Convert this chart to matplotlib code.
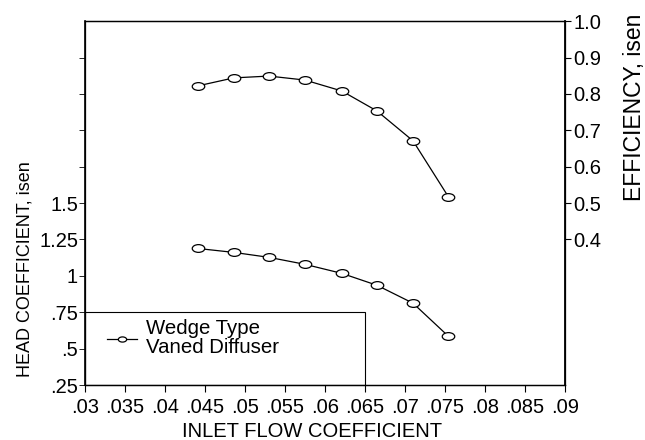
import matplotlib
matplotlib.use("Agg")
import matplotlib.pyplot as plt
import matplotlib.transforms as mt
from matplotlib.path import Path
from matplotlib.patches import Rectangle
from matplotlib.lines import Line2D

plt.rcParams['font.family'] = ['Liberation Sans', 'DejaVu Sans']

# inlet flow coefficient
flow = [0.0441, 0.0486, 0.0530, 0.0575, 0.0621, 0.0665, 0.0710, 0.0754]
# isentropic head coefficient (left axis)
head = [1.188, 1.161, 1.127, 1.079, 1.017, 0.935, 0.812, 0.586]
# isentropic efficiency (right axis)
eff = [0.822, 0.844, 0.849, 0.838, 0.808, 0.753, 0.671, 0.518]

x_ticks = [0.03, 0.035, 0.04, 0.045, 0.05, 0.055, 0.06, 0.065, 0.07, 0.075, 0.08, 0.085, 0.09]
x_labels = ['.03', '.035', '.04', '.045', '.05', '.055', '.06', '.065', '.07', '.075', '.08', '.085', '.09']
head_ticks = [0.25, 0.5, 0.75, 1.0, 1.25, 1.5, 1.75, 2.0, 2.25, 2.5]
head_labels = ['.25', '.5', '.75', '1', '1.25', '1.5', '', '', '', '']
eff_ticks = [0.4, 0.5, 0.6, 0.7, 0.8, 0.9, 1.0]
eff_labels = ['0.4', '0.5', '0.6', '0.7', '0.8', '0.9', '1.0']

# slightly flattened open circle like the original markers
ellipse = Path.unit_circle().transformed(mt.Affine2D().scale(1, 0.62))

fig = plt.figure(figsize=(6.45, 4.4), dpi=100)
ax = fig.add_axes([0.1318, 0.125, 0.7442, 0.827])
ax2 = ax.twinx()

mk = dict(marker=ellipse, markersize=9, markerfacecolor='white',
          markeredgecolor='black', markeredgewidth=0.9)
ax.plot(flow, head, color='black', lw=0.9, **mk)
ax2.plot(flow, eff, color='black', lw=0.9, **mk)

ax.set_xlim(0.03, 0.09)
ax.set_ylim(0.25, 2.75)
ax2.set_ylim(0.0, 1.0)

ax.set_xticks(x_ticks)
ax.set_xticklabels(x_labels)
ax.set_yticks(head_ticks)
ax.set_yticklabels(head_labels)
ax2.set_yticks(eff_ticks)
ax2.set_yticklabels(eff_labels)

ax.tick_params(axis='x', direction='out', length=5, width=0.8, labelsize=14.5, pad=4)
ax.tick_params(axis='y', direction='out', length=4, width=0.6, labelsize=14.5, pad=1)
ax2.tick_params(axis='y', direction='out', length=4, width=0.8, labelsize=14.5, pad=2)

for a in (ax, ax2):
    for s in a.spines.values():
        s.set_linewidth(0.9)
ax2.spines['right'].set_linewidth(1.3)
ax.spines['left'].set_linewidth(1.2)

fig.text(312 / 645, 1 - 431 / 440, 'INLET FLOW COEFFICIENT', fontsize=14.5,
         ha='center', va='center')
fig.text(0.039, 1 - 269 / 440, 'HEAD COEFFICIENT, isen', rotation=90,
         fontsize=13, ha='center', va='center')
fig.text(0.983, 1 - 107 / 440, 'EFFICIENCY, isen', rotation=90,
         fontsize=16.5, ha='center', va='center')

# legend box
ax.add_patch(Rectangle((0.03, 0.25), 0.035, 0.5, fill=False, edgecolor='black',
                       lw=0.8, zorder=3))
handle = Line2D([], [], color='black', lw=0.9, marker=ellipse, markersize=6,
                markerfacecolor='white', markeredgecolor='black', markeredgewidth=0.9)
leg = ax.legend([handle], ['Wedge Type\nVaned Diffuser'], loc='center left',
                bbox_to_anchor=(0.045, 0.128), frameon=False, fontsize=14.7,
                handlelength=1.5, handletextpad=0.45, borderpad=0, borderaxespad=0,
                labelspacing=0)
for t in leg.get_texts():
    t.set_linespacing(1.0)

fig.savefig('out.png', dpi=100)
